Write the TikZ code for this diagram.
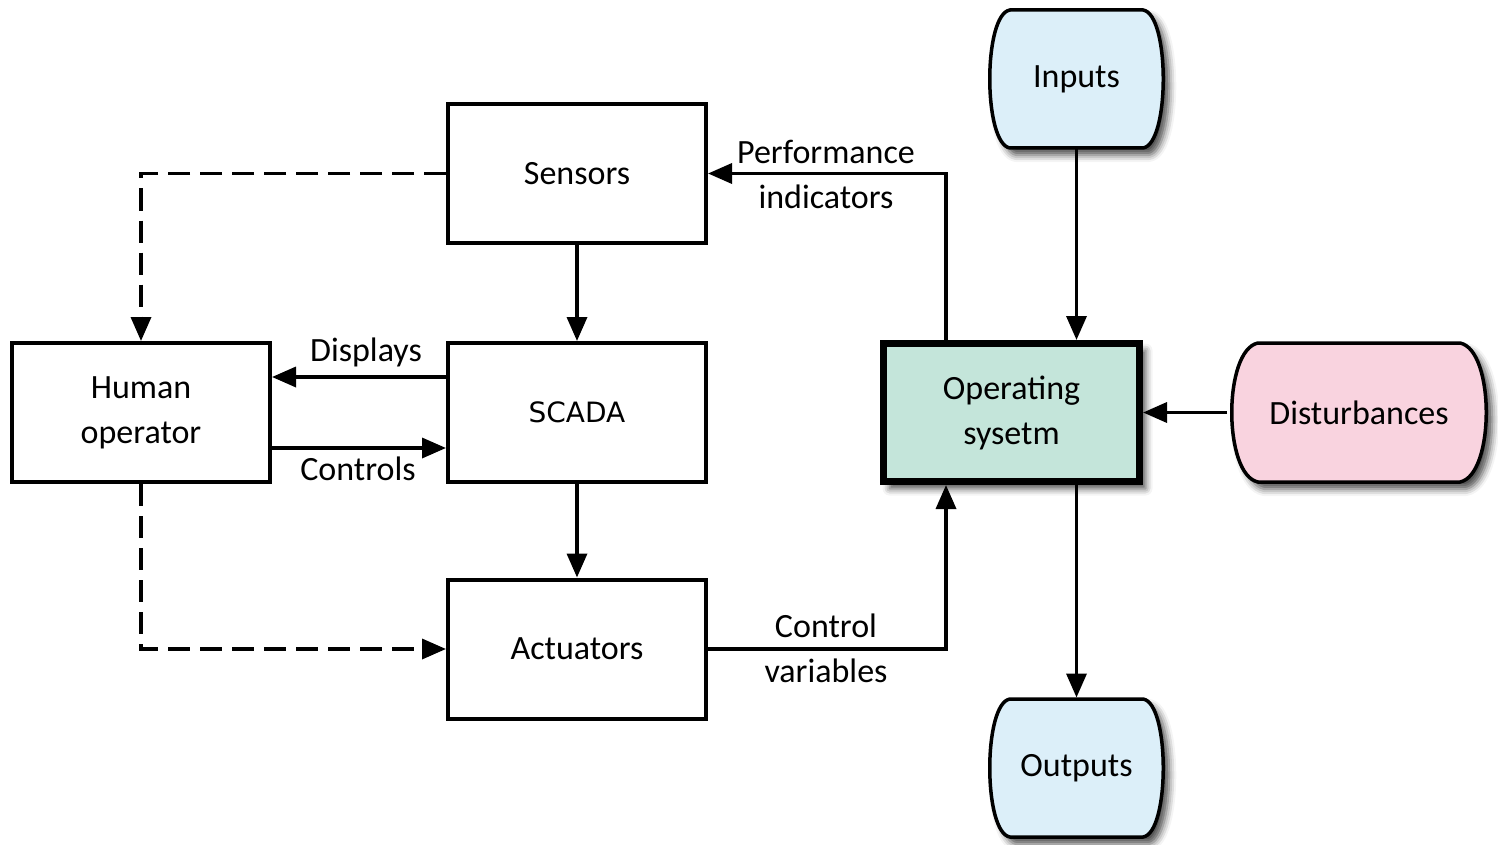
\documentclass[tikz,border=0pt]{standalone}
\usepackage{fontspec}
\setmainfont{Carlito}
\newfontfamily\scadafont{DejaVu Sans}
\usetikzlibrary{arrows.meta,shadows.blur}

\definecolor{ioblue}{HTML}{DCEFF9}
\definecolor{opgreen}{HTML}{C4E5DA}
\definecolor{distpink}{HTML}{F9D3DF}

\begin{document}
\begin{tikzpicture}[x=1pt,y=-1pt,
  txt/.style={font=\fontsize{34}{45}\selectfont, align=center, text=black},
  block/.style={txt, draw, line width=4pt, minimum width=258pt,
    minimum height=139pt, inner sep=0pt},
  softshadow/.style={blur shadow={shadow xshift=6pt, shadow yshift=-7pt,
    shadow blur radius=7pt, shadow opacity=70}},
  outline/.style={draw, line width=3.5pt, softshadow},
  arr/.style={line width=3.5pt, -{Triangle[length=24pt,width=20pt,fill=black]}},
  dasharr/.style={arr, dash pattern=on 22pt off 10pt},
  hidden/.style={txt, inner sep=0pt, outer sep=0pt}
]
\useasboundingbox (0,0) rectangle (1498,845);

% terminal shapes with bulging sides
\path[outline, fill=ioblue]
  (1010,10) -- (1143,10) .. controls (1170,14) and (1170,144) .. (1143,148)
  -- (1010,148) .. controls (983,144) and (983,14) .. (1010,10) -- cycle;
\path[outline, fill=ioblue, shift={(0,689)}]
  (1010,10) -- (1143,10) .. controls (1170,14) and (1170,144) .. (1143,148)
  -- (1010,148) .. controls (983,144) and (983,14) .. (1010,10) -- cycle;
\path[outline, fill=distpink]
  (1258,343) -- (1460,343) .. controls (1495,350) and (1495,475) .. (1460,482)
  -- (1258,482) .. controls (1223,475) and (1223,350) .. (1258,343) -- cycle;

\node[hidden, minimum width=173pt, minimum height=141pt] (inputs) at (1076.5,79) {Inputs};
\node[hidden, minimum width=173pt, minimum height=141pt] (outputs) at (1076.5,768) {Outputs};
\node[hidden, minimum width=264pt, minimum height=141pt] (dist) at (1359,412.5) {Disturbances};

% plain blocks
\node[block] (sensors) at (577,173.5) {Sensors};
\node[block, font=\scadafont\fontsize{28}{36}\selectfont] (scada) at (577,412.5) {SCADA};
\node[block] (human) at (141,412.5) {Human\\operator};
\node[block] (actuators) at (577,649) {Actuators};

% process block
\node[txt, draw, line width=7pt, fill=opgreen, minimum width=256pt,
  minimum height=138pt, inner sep=0pt, softshadow] (op) at (1011.5,412.5)
  {Operating\\sysetm};

% connectors
\draw[arr] (sensors.south) -- (scada.north);
\draw[arr] (scada.south) -- (actuators.north);
\draw[arr] ([yshift=35.5pt]scada.west) -- ([yshift=35.5pt]human.east);
\draw[arr] ([yshift=-35.5pt]human.east) -- ([yshift=-35.5pt]scada.west);
\draw[dasharr] (sensors.west) -| (human.north);
\draw[dasharr] (human.south) |- (actuators.west);
\draw[arr] ([xshift=66pt]op.north west) |- (sensors.east);
\draw[arr] (actuators.east) -| ([xshift=66pt]op.south west);
\draw[arr] (inputs.south) -- (inputs.south |- op.north);
\draw[arr] (dist.west) -- (op.east);
\draw[arr] (outputs.north |- op.south) -- (outputs.north);

% connector labels
\node[txt] (lbldisp) at (366,352) {Displays};
\node[txt] (lblctrl) at (358,469) {Controls};
\node[txt] (lblperf) at (826,174) {Performance\\indicators};
\node[txt] (lblvars) at (826,648) {Control\\variables};
\end{tikzpicture}
\end{document}
